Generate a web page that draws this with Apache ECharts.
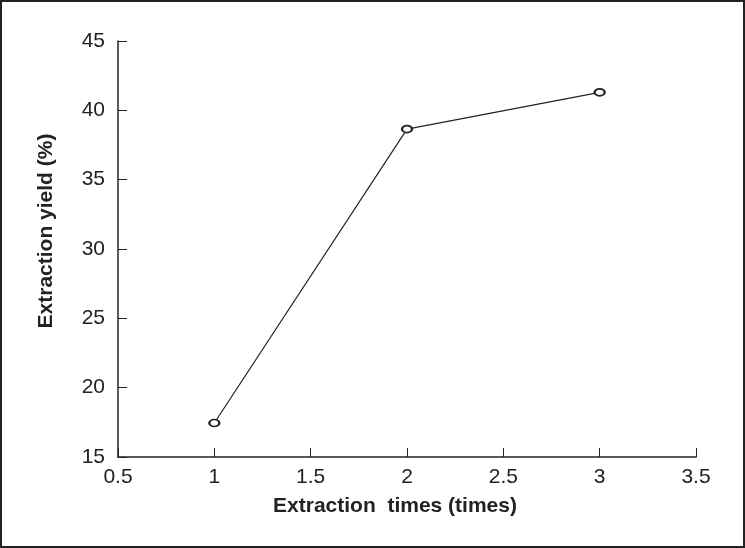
<!DOCTYPE html>
<html>
<head>
<meta charset="utf-8">
<script src="https://cdn.jsdelivr.net/npm/echarts@6/dist/echarts.min.js"></script>
<style>
  html, body { margin: 0; padding: 0; background: #fff; }
  #chart { width: 745px; height: 548px; box-sizing: border-box; border: 2px solid #222; }
</style>
</head>
<body>
<div id="chart"></div>
<script>
// extraction times vs yield
const times = [1, 2, 3]
const yieldPct = [17.45, 38.65, 41.3]

const chart = echarts.init(document.getElementById('chart'))
const fontFamily = 'Liberation Sans, Arial, sans-serif'
const axisText = { color: '#222', fontSize: 21, fontFamily: fontFamily }

chart.setOption({
  animation: false,
  grid: { left: 116, right: 47, top: 39, bottom: 89 },
  xAxis: {
    type: 'value',
    min: 0.5,
    max: 3.5,
    interval: 0.5,
    name: 'Extraction  times (times)',
    nameLocation: 'middle',
    nameGap: 39,
    nameTextStyle: { color: '#222', fontSize: 21, fontWeight: 'bold', fontFamily: fontFamily, padding: [0, 24, 0, 0] },
    axisLine: { lineStyle: { color: '#222', width: 1.5 } },
    axisTick: { inside: true, length: 9, lineStyle: { color: '#222', width: 1 } },
    axisLabel: Object.assign({ margin: 10 }, axisText),
    splitLine: { show: false }
  },
  yAxis: {
    type: 'value',
    min: 15,
    max: 45,
    interval: 5,
    name: 'Extraction yield (%)',
    nameLocation: 'middle',
    nameGap: 61,
    nameTextStyle: { color: '#222', fontSize: 21, fontWeight: 'bold', fontFamily: fontFamily, padding: [0, 0, 0, 36] },
    axisLine: { show: true, lineStyle: { color: '#222', width: 1.5 } },
    axisTick: { show: true, inside: true, length: 9, lineStyle: { color: '#222', width: 1 } },
    axisLabel: Object.assign({ margin: 13 }, axisText),
    splitLine: { show: false }
  },
  series: [{
    type: 'line',
    data: times.map((t, i) => [t, yieldPct[i]]),
    symbol: 'emptyCircle',
    symbolSize: [10, 7],
    lineStyle: { color: '#222', width: 1.2 },
    itemStyle: { color: '#222', borderWidth: 1 }
  }]
})
</script>
</body>
</html>
